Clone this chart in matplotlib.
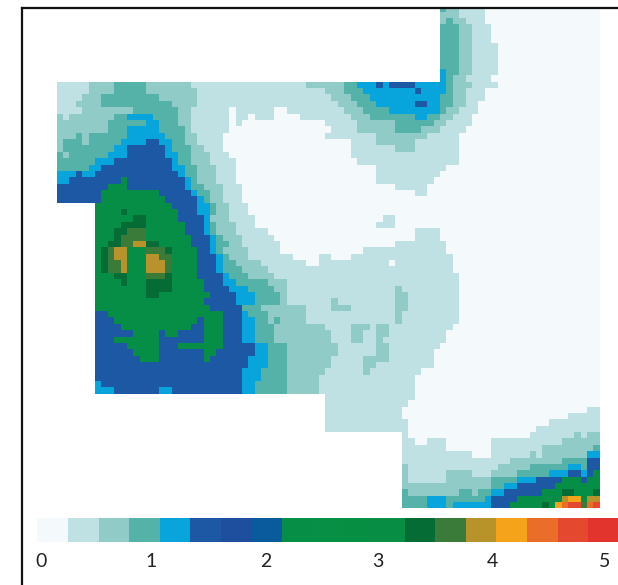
import numpy as np
import matplotlib
matplotlib.use("Agg")
import matplotlib.pyplot as plt
from matplotlib.colors import ListedColormap, BoundaryNorm

# Each row: "level:end_column" runs; x = no data
ROW_RUNS = [
"x:60 3:61 2:63 1:67 0:85",
"x:60 2:63 1:67 0:85",
"x:60 2:61 3:62 2:64 1:67 0:85",
"x:60 3:63 2:65 1:68 0:85",
"x:60 3:63 2:65 1:68 0:85",
"x:60 3:63 2:65 1:68 0:85",
"x:60 3:63 2:65 1:69 0:85",
"x:60 3:63 2:65 1:69 0:85",
"x:60 3:63 2:65 1:69 0:85",
"x:60 3:63 2:65 1:69 0:85",
"x:60 4:61 3:63 2:65 1:69 0:85",
"x:60 4:61 3:62 2:64 1:68 0:85",
"1:5 2:9 3:14 2:21 1:39 2:45 3:47 4:50 5:51 4:52 5:56 4:61 3:62 2:65 1:69 0:85",
"1:5 2:9 3:14 2:22 1:42 2:45 3:48 4:56 5:57 4:61 3:62 2:64 1:67 0:85",
"1:4 2:7 3:16 2:22 1:43 2:46 3:49 4:60 3:62 2:64 1:67 0:85",
"1:3 2:7 3:18 2:22 1:44 2:47 3:50 4:56 5:58 4:60 3:62 2:64 1:66 0:85",
"1:4 2:12 3:19 2:21 1:27 0:28 1:34 0:36 1:45 2:48 3:52 4:60 3:61 2:63 1:66 0:85",
"2:1 1:2 2:9 3:11 4:15 3:19 2:21 1:27 0:28 1:30 0:31 1:34 0:38 1:46 2:49 3:56 4:58 3:60 2:62 1:65 0:85",
"2:8 3:14 4:16 3:19 2:21 1:27 0:28 1:29 0:42 1:47 2:53 3:59 2:61 1:65 0:85",
"2:8 3:11 4:16 3:20 2:21 1:27 0:43 1:47 2:53 3:57 2:60 1:64 0:85",
"2:3 3:4 2:5 3:11 4:17 3:20 2:22 1:26 0:42 1:50 2:58 1:63 0:85",
"2:1 3:4 2:5 3:10 4:14 5:16 4:18 3:20 2:22 1:26 0:46 1:50 2:56 1:63 0:85",
"2:1 3:9 4:11 5:17 4:18 3:21 2:23 1:26 0:46 1:53 2:56 1:63 0:85",
"3:1 2:2 3:8 4:11 5:17 4:19 3:21 2:24 1:27 0:46 1:63 0:85",
"3:6 4:9 5:18 4:19 3:21 2:24 1:28 0:47 1:63 0:85",
"3:5 4:7 5:18 4:20 3:22 2:25 1:28 0:50 1:61 0:85",
"4:3 5:4 4:6 5:19 4:20 3:22 2:25 1:28 0:50 1:60 0:85",
"4:2 5:10 8:11 5:20 4:21 3:22 2:25 1:28 0:50 1:59 0:85",
"5:8 8:11 5:20 4:21 3:23 2:26 1:29 0:53 1:58 0:85",
"5:7 8:16 5:21 4:22 3:24 2:26 1:29 0:56 1:58 0:85",
"5:7 8:17 5:22 4:23 3:24 2:26 1:29 0:85",
"x:6 8:18 5:22 4:24 3:25 2:27 1:30 0:85",
"x:6 8:10 11:11 8:19 5:22 4:24 3:25 2:27 1:30 0:85",
"x:6 8:12 11:14 8:19 5:23 4:24 2:27 1:31 0:51 1:53 0:85",
"x:6 8:10 11:14 8:20 5:23 4:24 3:25 2:28 1:31 0:50 1:53 0:85",
"x:6 8:9 11:11 12:14 8:20 5:23 4:24 3:25 2:28 1:33 0:56 1:60 0:85",
"x:6 8:9 11:10 12:14 8:21 5:24 4:25 3:26 2:29 1:34 0:56 1:60 0:85",
"x:6 8:8 11:10 12:12 13:14 11:16 8:21 5:24 4:25 3:27 2:29 1:35 0:53 1:61 0:85",
"x:6 8:7 11:8 12:9 13:11 8:14 12:17 11:18 8:22 5:24 4:25 3:26 2:30 1:35 0:48 1:61 0:85",
"x:6 8:7 11:8 12:9 13:11 8:14 13:16 12:18 8:22 5:25 4:26 3:27 2:30 1:37 0:41 1:43 0:46 1:62 0:85",
"x:6 8:7 11:8 12:10 13:11 8:14 13:17 12:18 8:22 5:25 4:26 3:28 2:32 1:39 0:41 1:52 0:53 1:62 0:85",
"x:6 8:7 11:8 12:10 13:11 8:14 13:17 12:18 8:22 5:25 4:26 3:29 2:33 1:62 0:85",
"x:6 8:9 11:11 8:14 12:17 11:18 8:22 5:26 4:27 3:30 2:34 1:63 0:85",
"x:6 8:10 11:11 8:14 11:18 8:23 5:26 4:28 3:33 2:36 1:63 0:85",
"x:6 8:14 11:18 8:23 5:27 4:30 3:34 2:36 1:53 2:54 1:63 0:85",
"x:6 8:14 11:16 8:24 5:28 4:31 3:35 2:36 1:53 2:55 1:63 0:85",
"x:6 8:23 5:28 4:31 3:35 2:36 1:43 2:44 1:53 2:55 1:63 0:85",
"x:6 8:24 5:29 3:32 2:39 1:43 2:46 1:53 2:55 1:63 0:85",
"x:6 5:8 8:26 5:29 4:30 3:33 2:39 1:53 2:54 1:63 0:85",
"x:6 5:9 8:22 5:23 8:26 5:29 4:31 3:33 2:34 3:35 2:39 1:53 2:54 1:63 0:85",
"x:6 5:10 8:21 5:23 8:26 5:29 4:31 3:34 2:42 1:46 2:49 1:50 2:52 1:62 0:85",
"x:6 5:12 8:16 5:17 8:19 5:23 8:26 5:29 4:31 3:34 2:43 1:46 2:48 1:50 2:52 1:61 0:85",
"x:6 5:9 8:16 5:23 8:26 5:29 4:31 3:34 2:43 1:46 2:48 1:50 2:51 1:61 0:85",
"x:6 5:11 8:16 5:19 8:26 5:31 4:33 3:36 2:44 1:50 2:52 1:60 0:85",
"x:6 5:12 8:16 5:23 8:25 5:31 4:33 3:36 2:44 1:50 2:52 1:59 0:85",
"x:6 5:13 8:16 5:23 8:24 5:30 4:33 3:36 2:43 1:48 2:52 1:59 0:85",
"x:6 5:30 4:33 3:36 2:43 1:48 2:50 1:59 0:85",
"x:6 5:29 4:32 3:36 2:42 1:48 2:49 1:57 0:85",
"x:6 5:29 4:32 3:36 2:41 1:56 0:85",
"x:6 4:7 5:29 4:31 3:36 2:41 1:56 0:85",
"x:6 4:9 5:16 4:18 5:29 4:31 3:36 2:41 1:56 0:85",
"x:42 1:56 0:85",
"x:42 1:55 0:85",
"x:42 1:54 0:83 1:85",
"x:42 1:54 0:80 1:85",
"x:42 1:55 0:77 1:85",
"x:42 1:55 0:75 1:85",
"x:54 1:55 0:74 1:81 2:82 1:83 2:85",
"x:54 1:56 0:58 1:61 0:68 1:79 2:85",
"x:54 1:61 0:68 1:76 2:84 3:85",
"x:54 1:65 0:68 1:74 2:75 1:76 2:83 4:85",
"x:54 1:71 2:79 3:83 5:85",
"x:54 2:55 1:69 2:74 3:80 4:82 3:83 5:85",
"x:54 2:55 1:61 2:65 1:68 2:72 3:77 4:80 5:82 4:83 5:84 8:85",
"x:54 2:55 1:61 2:68 3:72 4:75 5:79 8:82 5:83 8:85",
"x:54 2:68 3:70 4:72 5:78 8:85",
"x:54 3:55 2:63 3:65 2:66 3:68 4:70 5:76 8:79 11:81 8:84 11:85",
"x:54 3:58 4:61 3:67 4:68 5:72 8:79 13:80 14:82 8:83 13:85",
"x:54 3:58 4:61 3:62 4:68 5:71 8:76 11:77 8:78 14:79 15:80 16:82 12:83 15:84 16:85",
]

LEVEL_COLORS = ["#F4FAFC", "#BFE1E4", "#90CBC7", "#55B2A8", "#07A5DC",
                "#1C58A4", "#1E4F9E", "#0A5A9E", "#068E46", "#068F45",
                "#068E43", "#056C36", "#3B7B3A", "#B8922A", "#F4A31B",
                "#EA6E29", "#E4482E", "#078D44", "#E2342C"]
# order of the levels along the colour strip
CBAR_LEVELS = [0, 1, 2, 3, 4, 5, 6, 7, 8, 9, 10, 17, 11, 12, 13, 14, 15, 16, 18]
TICK_LABELS = ["0", "1", "2", "3", "4", "5"]
TICK_POSITIONS = [0.12, 3.72, 7.47, 11.13, 14.88, 18.52]


def expand(rows):
    out = np.full((len(rows), 85), np.nan)
    for r, text in enumerate(rows):
        start = 0
        for run in text.split():
            lev, end = run.split(":")
            if lev != "x":
                out[r, start:int(end)] = int(lev)
            start = int(end)
    return np.ma.masked_invalid(out)


W, H = 618, 585
fig = plt.figure(figsize=(W / 100, H / 100), dpi=100, facecolor="white")

cmap = ListedColormap(LEVEL_COLORS)
norm = BoundaryNorm(np.arange(-0.5, 19.5), cmap.N)

# pixel geometry
CX0, CW = 56.7, 6.39
RY0, RH = 5.26, 6.37
L, T = 21.9, 8.4

ax = fig.add_axes([L / W, 0, 1 - L / W, 1 - T / H])
grid = expand(ROW_RUNS)
ax.pcolormesh(np.arange(86), np.arange(80), grid, cmap=cmap, norm=norm,
              edgecolors="none", antialiased=False, rasterized=True)
ax.set_xlim((L - CX0) / CW, (W - CX0) / CW)
ax.set_ylim((H - RY0) / RH, (T - RY0) / RH)
ax.set_xticks([])
ax.set_yticks([])
for s in ("right", "bottom"):
    ax.spines[s].set_visible(False)
for s in ("left", "top"):
    ax.spines[s].set_linewidth(1.6)
    ax.spines[s].set_color("#111111")

# colour strip
BX0, BY0, BY1 = 37.4, 517.5, 541.8
cax = fig.add_axes([BX0 / W, 1 - BY1 / H, 1 - BX0 / W, (BY1 - BY0) / H])
cax.pcolormesh(np.arange(20), [0, 1], np.array([CBAR_LEVELS]), cmap=cmap,
               norm=norm, edgecolors="none", antialiased=False)
cax.set_xlim(0, (W - BX0) / 30.6)
cax.set_ylim(0, 1)
cax.set_yticks([])
cax.set_xticks(TICK_POSITIONS)
cax.set_xticklabels(TICK_LABELS, family="Lato", fontsize=14, color="#222222")
cax.tick_params(axis="x", length=0, pad=8)
for s in cax.spines.values():
    s.set_visible(False)

fig.savefig("out.png", dpi=100, facecolor="white")
